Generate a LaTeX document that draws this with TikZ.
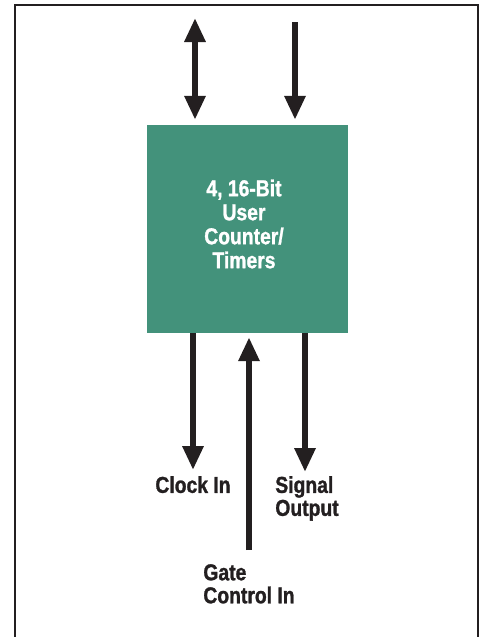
\documentclass[tikz,border=0pt]{standalone}
\usepackage{fontspec}
\setmainfont{Liberation Sans}[FakeStretch=0.84,BoldFeatures={FakeBold=1.2}]
\usetikzlibrary{arrows.meta,positioning}
\definecolor{ctrgreen}{RGB}{67,146,123}
\definecolor{ink}{RGB}{35,31,32}
\tikzset{
        >={Triangle[width=20pt,length=24pt]}, % big solid heads
        sig/.style={line width=6pt, draw=ink}, % signal lines
        lbl/.style={font=\bfseries\fontsize{23}{23}\selectfont, align=left, text=ink, inner sep=0pt},
    }
\tikzstyle{block}=[fill=ctrgreen,minimum width=201pt,minimum height=208pt,inner sep=0pt,
    text=white]

\begin{document}
\begin{tikzpicture}[x=1pt,y=-1pt]
    \useasboundingbox (0,0) rectangle (484,637);
    \draw[line width=2pt,ink] (15,637) -- (15,5) -- (478,5) -- (478,637);

    \node[block] (ctr) at (247.5,229) {};
    \node[font=\bfseries\fontsize{23}{24}\selectfont,text=white,align=center]
        (ctrl) at (244,224) {4, 16-Bit\\User\\Counter/\\Timers};

    % top side
    \coordinate (bus) at (195,18);
    \coordinate (din) at (295,22);
    \draw[sig,<->,shorten >=5pt] (bus) -- (bus |- ctr.north);
    \draw[sig,->,shorten >=5pt] (din) -- (din |- ctr.north);

    % bottom side
    \coordinate (clk) at (193,470);
    \coordinate (gate) at (249,550);
    \coordinate (out) at (305,472);
    \draw[sig,->] (clk |- ctr.south) -- (clk);
    \draw[sig,->,shorten >=4pt] (gate) -- (gate |- ctr.south);
    \draw[sig,->] (out |- ctr.south) -- (out);

    \node[lbl, below=6pt of clk] (clkl) {Clock In};
    \node[lbl, below=4pt of out, xshift=2pt] (outl) {Signal\\Output};
    \node[lbl, below=14pt of gate] (gatel) {Gate\\Control In};
\end{tikzpicture}
\end{document}
